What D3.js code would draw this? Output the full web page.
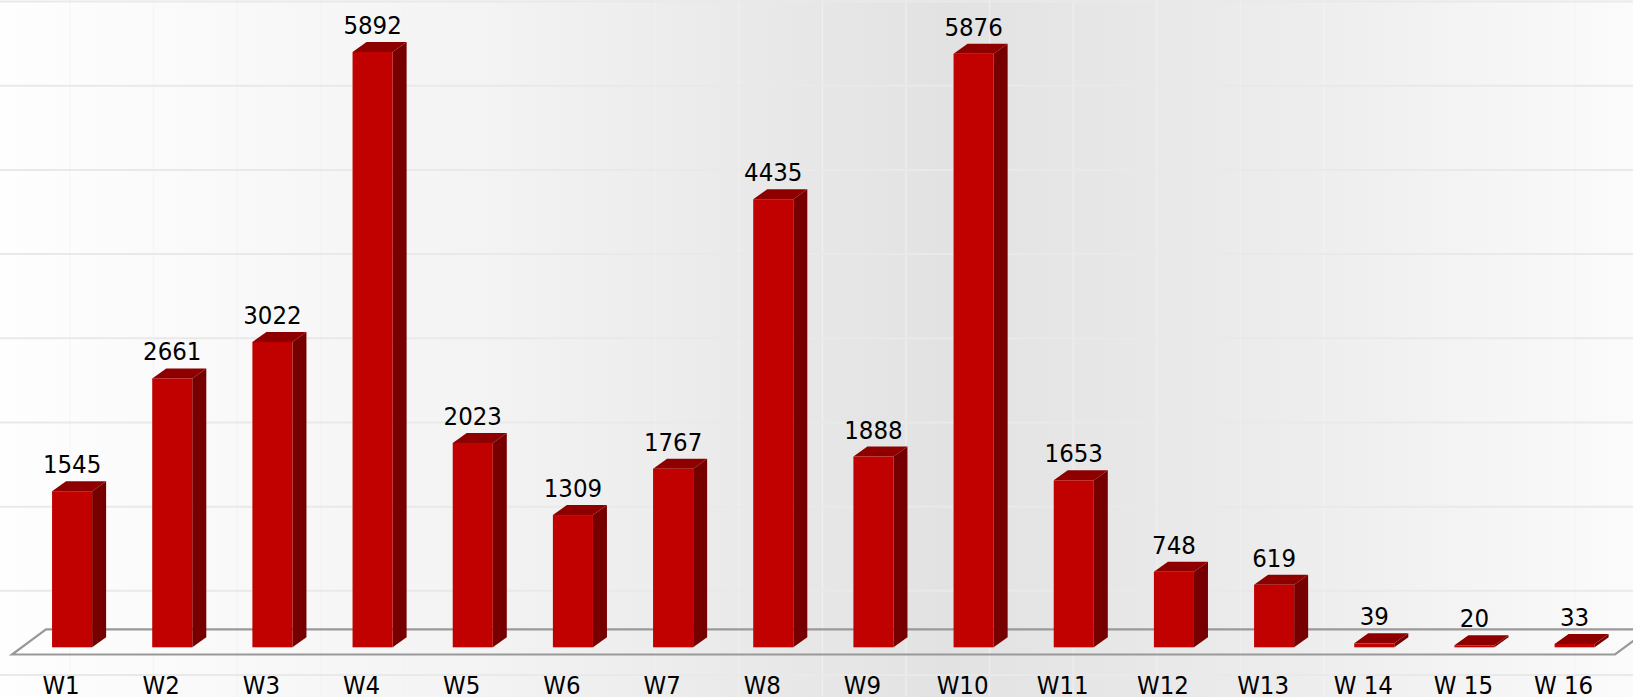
<!DOCTYPE html>
<html>
<head>
<meta charset="utf-8">
<script src="https://cdn.jsdelivr.net/npm/d3@7"></script>
<style>
  html, body { margin: 0; padding: 0; background: #fff; }
  svg { display: block; }
</style>
</head>
<body>
<svg id="chart" width="1633" height="697"></svg>
<script>
const categories = ["W1","W2","W3","W4","W5","W6","W7","W8","W9","W10","W11","W12","W13","W 14","W 15","W 16"];
const values = [1545, 2661, 3022, 5892, 2023, 1309, 1767, 4435, 1888, 5876, 1653, 748, 619, 39, 20, 33];

const W = 1633, H = 697;
const svg = d3.select("#chart");
const FONT = "'DejaVu Sans Condensed', 'DejaVu Sans', sans-serif";

// background gradient
const defs = svg.append("defs");
const grad = defs.append("linearGradient").attr("id", "bg").attr("x1", 0).attr("x2", 1).attr("y1", 0).attr("y2", 0);
[[0, "#fefefe"], [0.3, "#f3f3f3"], [0.58, "#e2e2e2"], [0.8, "#ededed"], [1, "#fbfbfb"]]
  .forEach(([o, c]) => grad.append("stop").attr("offset", o).attr("stop-color", c));
svg.append("rect").attr("width", W).attr("height", H).attr("fill", "url(#bg)");

// faint vertical background lines
const vx = d3.scaleLinear().domain([0, 1]).range([70, 153.6]);
svg.append("g").selectAll("line").data(d3.range(0, 20)).join("line")
  .attr("x1", d => vx(d)).attr("x2", d => vx(d)).attr("y1", 0).attr("y2", H)
  .attr("stroke", "#f4f4f4").attr("stroke-width", 1.5).attr("opacity", 0.6);

// horizontal gridlines
const gy = d3.scaleLinear().domain([0, 8]).range([1.5, 675]);
svg.append("g").selectAll("line").data(d3.range(0, 9)).join("line")
  .attr("x1", 0).attr("x2", W).attr("y1", d => gy(d)).attr("y2", d => gy(d))
  .attr("stroke", "#e9e9e9").attr("stroke-width", 2);

// scales
const x = d3.scaleBand().domain(categories).range([22, 1624.7]).paddingInner(0.6).paddingOuter(0.3);
const y = d3.scaleLinear().domain([0, 6000]).range([647.3, 41.1]);

const dx = 14, dy = 10;          // bar depth
const fdx = 34, fdy = 25.2;      // floor depth
const floorFront = y(0) + 7.2;
const floorBack = floorFront - fdy;
const floorLeft = 12, floorRight = 1615;

// floor
const floor = svg.append("g").attr("fill", "none").attr("stroke", "#999").attr("stroke-width", 2.2);
floor.append("path").attr("d",
  `M${floorLeft},${floorFront} L${floorRight},${floorFront} L${floorRight + fdx},${floorBack} L${floorLeft + fdx},${floorBack} Z`);

// bars
const bars = svg.append("g").selectAll("g").data(categories).join("g");
const bw = x.bandwidth();
bars.each(function(c, i) {
  const g = d3.select(this);
  const x0 = x(c), x1 = x0 + bw;
  const yt = y(values[i]), yb = y(0);
  // side
  g.append("path").attr("d", `M${x1},${yb} L${x1 + dx},${yb - dy} L${x1 + dx},${yt - dy} L${x1},${yt} Z`)
    .attr("fill", "#760000");
  // top
  g.append("path").attr("d", `M${x0},${yt} L${x0 + dx},${yt - dy} L${x1 + dx},${yt - dy} L${x1},${yt} Z`)
    .attr("fill", "#8e0000");
  // front
  g.append("rect").attr("x", x0).attr("y", yt).attr("width", bw).attr("height", yb - yt)
    .attr("fill", "#c10000");
  // value label
  g.append("text").attr("x", x0 + bw / 2).attr("y", yt - dy - 8)
    .attr("text-anchor", "middle").attr("font-family", FONT).attr("font-size", 25.5)
    .attr("fill", "#000").text(values[i]);
});

// category labels
svg.append("g").selectAll("text").data(categories).join("text")
  .attr("x", d => x(d) + bw / 2 - 11).attr("y", 694)
  .attr("text-anchor", "middle").attr("font-family", FONT).attr("font-size", 25.5)
  .attr("fill", "#000").text(d => d);
</script>
</body>
</html>
